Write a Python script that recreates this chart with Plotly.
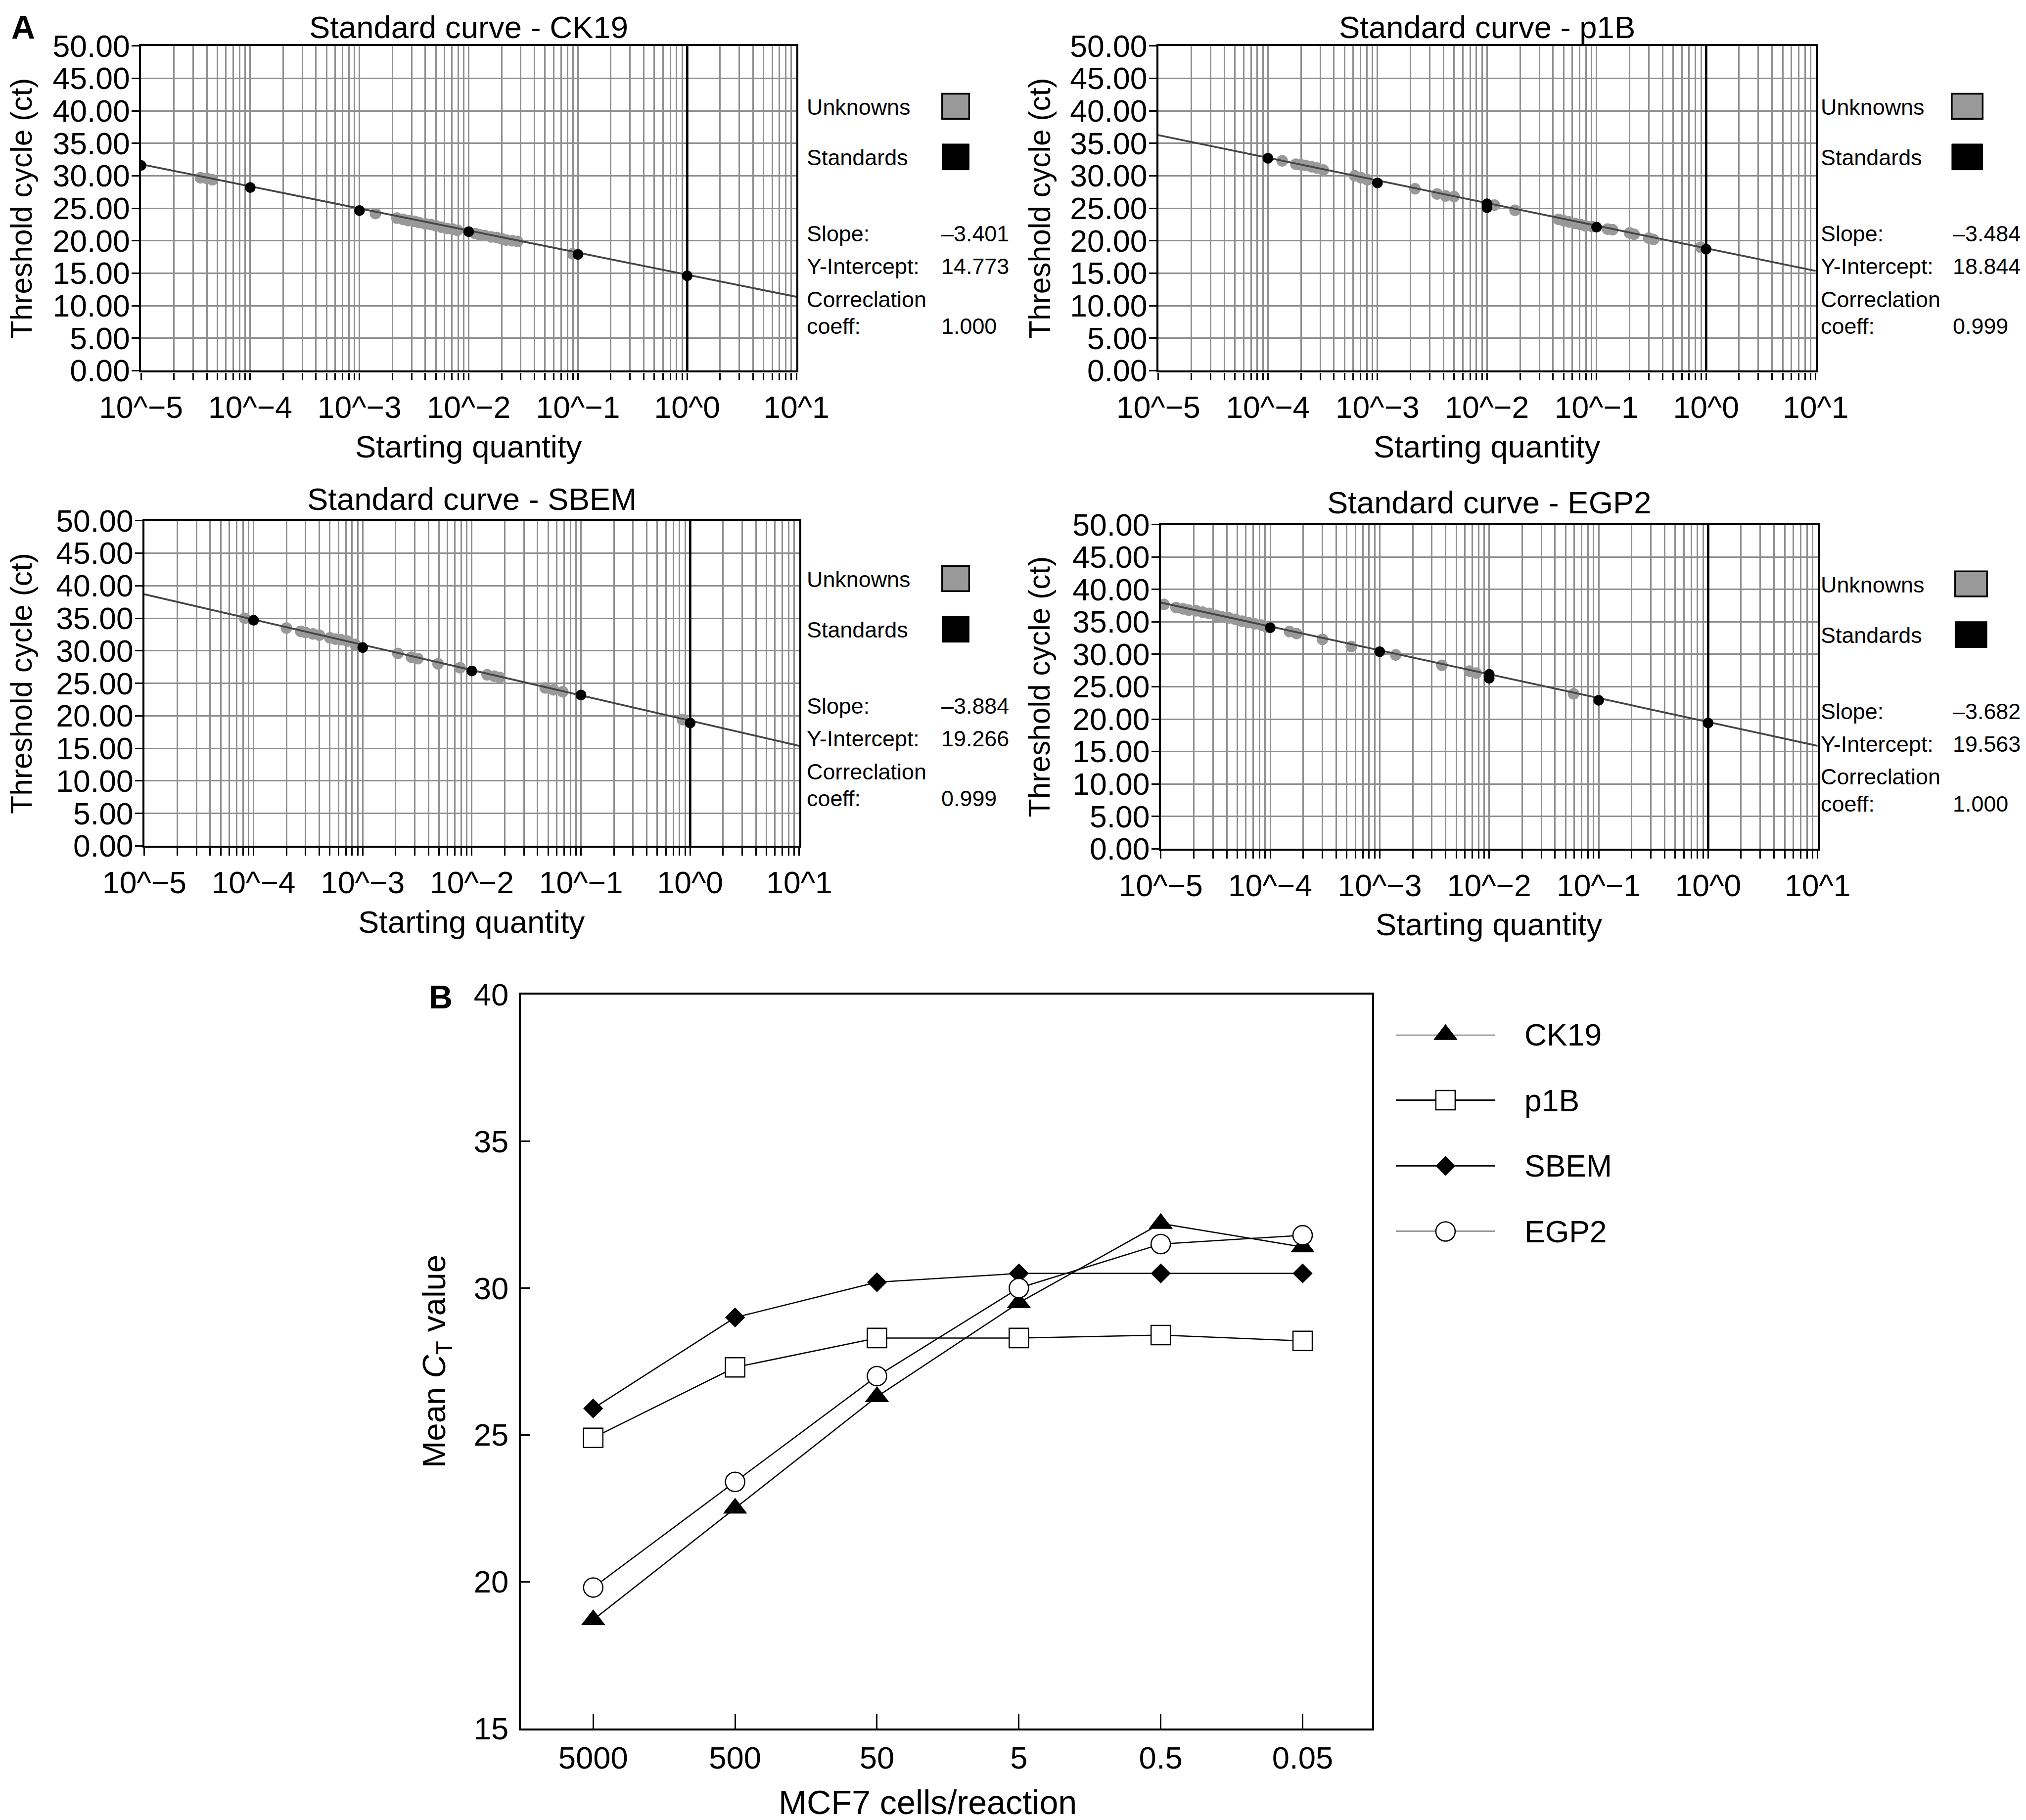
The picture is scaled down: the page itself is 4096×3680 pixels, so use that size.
import plotly.graph_objects as go

# ---------------- data ----------------
decade_vals = [1e-5, 1e-4, 1e-3, 1e-2, 1e-1, 1e0, 1e1]
decade_text = ["10^\u22125", "10^\u22124", "10^\u22123", "10^\u22122", "10^\u22121", "10^0", "10^1"]
ct_ticks = [0, 5, 10, 15, 20, 25, 30, 35, 40, 45, 50]

genes = ["CK19", "p1B", "SBEM", "EGP2"]
slopes = ["\u20133.401", "\u20133.484", "\u20133.884", "\u20133.682"]
intercepts = ["14.773", "18.844", "19.266", "19.563"]
corr_coeffs = ["1.000", "0.999", "0.999", "1.000"]

# regression line end points (at 10^-5 and 10^1)
line_q = [1e-5, 1e1]
ck19_line_ct = [31.78, 11.37]
p1b_line_ct = [36.26, 15.36]
sbem_line_ct = [38.69, 15.38]
egp2_line_ct = [37.97, 15.88]

# standards
ck19_std_q = [1e-5, 1e-4, 1e-3, 1e-2, 1e-1, 1e0]
ck19_std_ct = [31.6, 28.2, 24.65, 21.4, 17.9, 14.6]
p1b_std_q = [1e-4, 1e-3, 1e-2, 1e-2, 1e-1, 1e0]
p1b_std_ct = [32.7, 28.9, 25.1, 25.7, 22.1, 18.7]
sbem_std_q = [1e-4, 1e-3, 1e-2, 1e-1, 1e0]
sbem_std_ct = [34.7, 30.5, 26.9, 23.2, 18.9]
egp2_std_q = [1e-4, 1e-3, 1e-2, 1e-2, 1e-1, 1e0]
egp2_std_ct = [34.1, 30.4, 26.3, 26.9, 22.9, 19.4]

# unknowns
ck19_unk_q = [3.5e-5, 4.0e-5, 4.5e-5, 1.4e-3, 2.2e-3, 2.5e-3, 2.8e-3, 3.2e-3, 3.5e-3, 4.0e-3,
              4.5e-3, 5.0e-3, 5.6e-3, 6.3e-3, 7.1e-3, 7.9e-3, 1.15e-2, 1.26e-2, 1.4e-2, 1.6e-2,
              1.8e-2, 2.0e-2, 2.2e-2, 2.5e-2, 2.8e-2, 8.9e-2]
ck19_unk_ct = [29.7, 29.6, 29.4, 24.2, 23.5, 23.3, 23.1, 23.0, 22.8, 22.6,
               22.5, 22.3, 22.1, 21.9, 21.8, 21.6, 21.1, 20.9, 20.8, 20.6,
               20.5, 20.3, 20.1, 20.0, 19.9, 18.0]
p1b_unk_q = [1.35e-4, 1.8e-4, 2.0e-4, 2.2e-4, 2.5e-4, 2.8e-4, 3.2e-4, 6.2e-4, 7.1e-4, 8.1e-4,
             2.2e-3, 3.5e-3, 4.2e-3, 5.0e-3, 1.17e-2, 1.8e-2, 4.5e-2, 5.0e-2, 5.6e-2, 6.3e-2,
             7.1e-2, 7.9e-2, 9.1e-2, 1.26e-1, 1.4e-1, 2.0e-1, 2.2e-1, 3.0e-1, 3.3e-1, 8.9e-1]
p1b_unk_ct = [32.3, 31.8, 31.7, 31.6, 31.4, 31.2, 30.9, 30.0, 29.7, 29.4,
              28.0, 27.2, 26.9, 26.8, 25.5, 24.7, 23.3, 23.1, 22.9, 22.7,
              22.5, 22.3, 22.2, 21.8, 21.7, 21.2, 21.0, 20.4, 20.2, 19.0]
sbem_unk_q = [8.3e-5, 2.0e-4, 2.7e-4, 3.0e-4, 3.5e-4, 4.0e-4, 5.0e-4, 5.6e-4, 6.3e-4, 7.2e-4,
              8.5e-4, 2.1e-3, 2.8e-3, 3.2e-3, 4.9e-3, 7.8e-3, 1.38e-2, 1.6e-2, 1.8e-2, 4.7e-2,
              5.6e-2, 6.8e-2, 8.5e-1]
sbem_unk_ct = [35.0, 33.5, 33.0, 32.8, 32.6, 32.4, 32.0, 31.8, 31.7, 31.5,
               31.0, 29.6, 29.0, 28.8, 28.0, 27.4, 26.3, 26.1, 25.9, 24.3,
               24.0, 23.7, 19.4]
egp2_unk_q = [1.07e-5, 1.38e-5, 1.6e-5, 1.8e-5, 2.1e-5, 2.4e-5, 2.75e-5, 3.2e-5, 3.6e-5, 4.2e-5,
              4.8e-5, 5.5e-5, 6.3e-5, 7.2e-5, 8.3e-5, 9.3e-5, 1.5e-4, 1.74e-4, 3.0e-4, 5.5e-4,
              1.4e-3, 3.7e-3, 6.6e-3, 7.6e-3, 5.9e-2]
egp2_unk_ct = [37.7, 37.2, 37.0, 36.8, 36.7, 36.5, 36.3, 36.0, 35.8, 35.6,
               35.4, 35.1, 34.9, 34.7, 34.5, 34.2, 33.5, 33.2, 32.3, 31.2,
               29.9, 28.3, 27.4, 27.1, 23.9]

# panel B
cells = ["5000", "500", "50", "5", "0.5", "0.05"]
ck19_mean_ct = [18.7, 22.5, 26.3, 29.5, 32.2, 31.4]
p1b_mean_ct = [24.9, 27.3, 28.3, 28.3, 28.4, 28.2]
sbem_mean_ct = [25.9, 29.0, 30.2, 30.5, 30.5, 30.5]
egp2_mean_ct = [19.8, 23.4, 27.0, 30.0, 31.5, 31.8]
b_ticks = [15, 20, 25, 30, 35, 40]

# ---------------- geometry helpers ----------------
W, H = 4096, 3680
RW, RH = 4198, 3772
S = W / RW
FONT = "Liberation Sans, Arial, Helvetica, sans-serif"
GRID = "#8f8f8f"


def px(x):
    return x / RW


def py(y):
    return 1 - y / RH


fig = go.Figure()
annotations = []
shapes = []
layout = {}

std_q = [ck19_std_q, p1b_std_q, sbem_std_q, egp2_std_q]
std_ct = [ck19_std_ct, p1b_std_ct, sbem_std_ct, egp2_std_ct]
unk_q = [ck19_unk_q, p1b_unk_q, sbem_unk_q, egp2_unk_q]
unk_ct = [ck19_unk_ct, p1b_unk_ct, sbem_unk_ct, egp2_unk_ct]
line_ct = [ck19_line_ct, p1b_line_ct, sbem_line_ct, egp2_line_ct]

panels = [
    dict(x0=284, x1=1642, y0=87, y1=760, title_y=48, ytx=36, ltx=1661, sw0=1944, sw1=2000, vx=1940, dy=0),
    dict(x0=2392, x1=3754, y0=87, y1=760, title_y=48, ytx=2146, ltx=3762, sw0=4036, sw1=4100, vx=4036, dy=0),
    dict(x0=291, x1=1648, y0=1071, y1=1745, title_y=1026, ytx=36, ltx=1661, sw0=1944, sw1=2000, vx=1940, dy=979),
    dict(x0=2397, x1=3758, y0=1079, y1=1751, title_y=1033, ytx=2146, ltx=3762, sw0=4043, sw1=4109, vx=4036, dy=990),
]

minor_vals = [k * 10.0 ** d for d in range(-5, 1) for k in range(2, 10)]
TICKF = dict(family=FONT, size=64 * S, color="black")

for i, p in enumerate(panels):
    n = i + 1
    xa = "x" if n == 1 else f"x{n}"
    ya = "y" if n == 1 else f"y{n}"
    xkey = "xaxis" if n == 1 else f"xaxis{n}"
    ykey = "yaxis" if n == 1 else f"yaxis{n}"

    layout[xkey] = dict(
        type="log", range=[-5, 1], domain=[px(p["x0"]), px(p["x1"])], anchor=ya,
        automargin=False,
        tickmode="array", tickvals=decade_vals, ticktext=decade_text,
        ticks="outside", ticklen=16 * S, tickwidth=3 * S, tickcolor="black",
        ticklabelstandoff=1,
        showgrid=True, gridcolor=GRID, gridwidth=3 * S,
        minor=dict(tickvals=minor_vals, ticks="outside", ticklen=16 * S, tickwidth=2.6 * S,
                   tickcolor="black", showgrid=True, gridcolor=GRID, gridwidth=3 * S),
        showline=True, linecolor="black", linewidth=4.5 * S, mirror=True,
        zeroline=False, tickfont=TICKF,
    )
    layout[ykey] = dict(
        range=[0, 50], domain=[py(p["y1"]), py(p["y0"])], anchor=xa,
        automargin=False,
        tickmode="array", tickvals=ct_ticks, ticktext=[f"{v:.2f}" for v in ct_ticks],
        ticks="outside", ticklen=15 * S, tickwidth=3.5 * S, tickcolor="black",
        ticklabelstandoff=-9,
        showgrid=True, gridcolor=GRID, gridwidth=3.2 * S,
        showline=True, linecolor="black", linewidth=4.5 * S, mirror=True,
        zeroline=False, tickfont=TICKF,
    )

    fig.add_trace(go.Scatter(x=unk_q[i], y=unk_ct[i], mode="markers", xaxis=xa, yaxis=ya,
                             marker=dict(size=24 * S, color="#999999", line=dict(width=0)),
                             showlegend=False))
    fig.add_trace(go.Scatter(x=line_q, y=line_ct[i], mode="lines", xaxis=xa, yaxis=ya,
                             line=dict(color="#454545", width=3.8 * S), showlegend=False))
    fig.add_trace(go.Scatter(x=std_q[i], y=std_ct[i], mode="markers", xaxis=xa, yaxis=ya,
                             marker=dict(size=22 * S, color="black", line=dict(width=0)),
                             showlegend=False))

    # thick vertical line at 10^0
    shapes.append(dict(type="line", xref=xa, yref=f"{ya} domain", x0=1, x1=1, y0=0, y1=1,
                       line=dict(color="black", width=5 * S), layer="above"))

    cx = (p["x0"] + p["x1"]) / 2
    annotations.append(dict(text=f"Standard curve - {genes[i]}", x=px(cx), y=py(p["title_y"]),
                            xref="paper", yref="paper", xanchor="center", yanchor="middle",
                            showarrow=False, font=dict(family=FONT, size=65 * S, color="black")))
    annotations.append(dict(text="Starting quantity", x=px(cx), y=py(p["y1"] + 157),
                            xref="paper", yref="paper", xanchor="center", yanchor="middle",
                            showarrow=False, font=dict(family=FONT, size=65 * S, color="black")))
    annotations.append(dict(text="Threshold cycle (ct)", x=px(p["ytx"]), y=py((p["y0"] + p["y1"]) / 2),
                            xref="paper", yref="paper", xanchor="center", yanchor="middle",
                            textangle=-90, showarrow=False,
                            font=dict(family=FONT, size=62 * S, color="black")))

    dy = p["dy"]
    lf = dict(family=FONT, size=46 * S, color="black")
    for txt, yy in [("Unknowns", 214), ("Standards", 318), ("Slope:", 476),
                    ("Y-Intercept:", 544), ("Correclation", 612), ("coeff:", 668)]:
        annotations.append(dict(text=txt, x=px(p["ltx"]), y=py(yy + dy), xref="paper", yref="paper",
                                xanchor="left", yanchor="middle", showarrow=False, font=lf))
    for txt, yy in [(slopes[i], 476), (intercepts[i], 544), (corr_coeffs[i], 668)]:
        annotations.append(dict(text=txt, x=px(p["vx"]), y=py(yy + dy), xref="paper", yref="paper",
                                xanchor="left", yanchor="middle", showarrow=False, font=lf))
    shapes.append(dict(type="rect", xref="paper", yref="paper",
                       x0=px(p["sw0"]), x1=px(p["sw1"]), y0=py(186 + dy), y1=py(238 + dy),
                       fillcolor="#999999", line=dict(color="black", width=3.5 * S)))
    shapes.append(dict(type="rect", xref="paper", yref="paper",
                       x0=px(p["sw0"]), x1=px(p["sw1"]), y0=py(290 + dy), y1=py(344 + dy),
                       fillcolor="black", line=dict(color="black", width=1)))

# ---------------- panel B ----------------
BX0, BX1, BY0, BY1 = 1071, 2835, 2053, 3574
layout["xaxis5"] = dict(
    type="category", categoryorder="array", categoryarray=cells, range=[-0.51, 5.49],
    domain=[px(BX0), px(BX1)], anchor="y5", automargin=False,
    ticks="inside", ticklen=30 * S, tickwidth=3 * S, tickcolor="black",
    showgrid=False, showline=True, linecolor="black", linewidth=4 * S, mirror=True,
    zeroline=False, tickfont=dict(family=FONT, size=65 * S, color="black"),
    ticklabelstandoff=1,
)
layout["yaxis5"] = dict(
    range=[15, 40], domain=[py(BY1), py(BY0)], anchor="x5", automargin=False,
    tickmode="array", tickvals=b_ticks,
    ticks="inside", ticklen=20 * S, tickwidth=3 * S, tickcolor="black",
    showgrid=False, showline=True, linecolor="black", linewidth=4 * S, mirror=True,
    zeroline=False, tickfont=dict(family=FONT, size=65 * S, color="black"),
    ticklabelstandoff=8,
)

b_series = [
    ("CK19", ck19_mean_ct, dict(symbol="triangle-up", size=42 * S, color="black",
                                line=dict(color="black", width=1))),
    ("p1B", p1b_mean_ct, dict(symbol="square-open", size=40 * S, color="black",
                              line=dict(color="black", width=2.6 * S))),
    ("SBEM", sbem_mean_ct, dict(symbol="diamond", size=31 * S, color="black",
                                line=dict(color="black", width=1))),
    ("EGP2", egp2_mean_ct, dict(symbol="circle-open", size=40 * S, color="black",
                                line=dict(color="black", width=2.6 * S))),
]

for name, vals, mk in b_series:
    fig.add_trace(go.Scatter(x=cells, y=vals, mode="lines", xaxis="x5", yaxis="y5",
                             line=dict(color="black", width=2.6 * S), showlegend=False))
for name, vals, mk in b_series:
    m = dict(mk)
    if "open" in m["symbol"]:
        fig.add_trace(go.Scatter(x=cells, y=vals, mode="markers", xaxis="x5", yaxis="y5",
                                 marker=dict(symbol=m["symbol"].replace("-open", ""), size=m["size"],
                                             color="white", line=dict(width=0)),
                                 showlegend=False))
    fig.add_trace(go.Scatter(x=cells, y=vals, mode="markers", xaxis="x5", yaxis="y5",
                             marker=m, showlegend=False))

# legend of panel B drawn on a hidden helper axis
LX0, LX1, LY0, LY1 = 2884, 3090, 2136, 2544
layout["xaxis6"] = dict(domain=[px(LX0), px(LX1)], range=[0, 1], anchor="y6", visible=False,
                        automargin=False)
layout["yaxis6"] = dict(domain=[py(LY1), py(LY0)], range=[3, 0], anchor="x6", visible=False,
                        automargin=False)
for k, (name, vals, mk) in enumerate(b_series):
    fig.add_trace(go.Scatter(x=[0, 1], y=[k, k], mode="lines", xaxis="x6", yaxis="y6",
                             line=dict(color="black", width=3.2 * S), showlegend=False,
                             cliponaxis=False))
    m = dict(mk)
    if "open" in m["symbol"]:
        fig.add_trace(go.Scatter(x=[0.5], y=[k], mode="markers", xaxis="x6", yaxis="y6",
                                 marker=dict(symbol=m["symbol"].replace("-open", ""), size=m["size"],
                                             color="white", line=dict(width=0)),
                                 showlegend=False, cliponaxis=False))
    fig.add_trace(go.Scatter(x=[0.5], y=[k], mode="markers", xaxis="x6", yaxis="y6",
                             marker=m, showlegend=False, cliponaxis=False))
    annotations.append(dict(text=name, x=px(3148), y=py(LY0 + k * (LY1 - LY0) / 3),
                            xref="paper", yref="paper", xanchor="left", yanchor="middle",
                            showarrow=False, font=dict(family=FONT, size=64 * S, color="black")))

annotations.append(dict(text="MCF7 cells/reaction", x=px(1914), y=py(3727),
                        xref="paper", yref="paper", xanchor="center", yanchor="middle",
                        showarrow=False, font=dict(family=FONT, size=70 * S, color="black")))
annotations.append(dict(text="Mean <i>C</i><sub>T</sub> value", x=px(897), y=py((BY0 + BY1) / 2),
                        xref="paper", yref="paper", xanchor="center", yanchor="middle",
                        textangle=-90, showarrow=False,
                        font=dict(family=FONT, size=67 * S, color="black")))

# panel letters
annotations.append(dict(text="<b>A</b>", x=px(40), y=py(48), xref="paper", yref="paper",
                        xanchor="center", yanchor="middle", showarrow=False,
                        font=dict(family=FONT, size=68 * S, color="black")))
annotations.append(dict(text="<b>B</b>", x=px(905), y=py(2058), xref="paper", yref="paper",
                        xanchor="center", yanchor="middle", showarrow=False,
                        font=dict(family=FONT, size=68 * S, color="black")))

fig.update_layout(
    template="none",
    width=W, height=H, margin=dict(l=0, r=0, t=0, b=0, autoexpand=False),
    paper_bgcolor="white", plot_bgcolor="white",
    showlegend=False, annotations=annotations, shapes=shapes,
    font=dict(family=FONT, color="black"),
    **layout,
)

fig.write_html("out.html")
